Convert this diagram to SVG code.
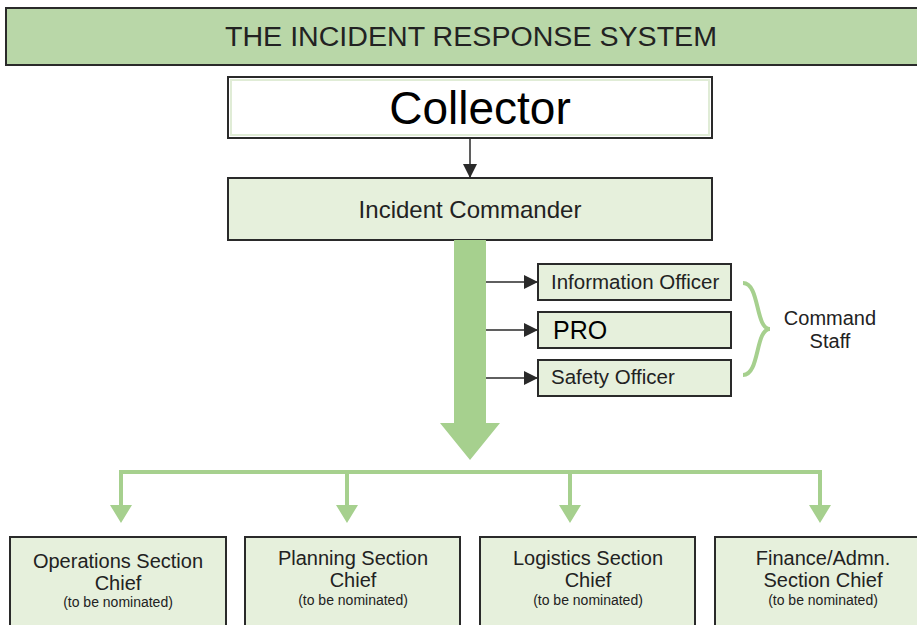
<svg xmlns="http://www.w3.org/2000/svg" width="917" height="625" viewBox="0 0 917 625">
<style>
text{font-family:"Liberation Sans",Arial,sans-serif;fill:#222;text-anchor:middle}
.box{fill:#e6f0dc;stroke:#2a2a2a;stroke-width:2}
.conn{stroke:#2a2a2a;stroke-width:1.5;fill:none}
.g{stroke:#a6d08e;stroke-width:4;fill:none}
.gf{fill:#a6d08e}
.sec{font-size:20px}
.small{font-size:14px}
.off{font-size:20.5px;text-anchor:start}
</style>
<defs>
<marker id="ahs" viewBox="0 0 10 10" refX="10" refY="5" markerWidth="14" markerHeight="14" markerUnits="userSpaceOnUse" orient="auto">
<path d="M0,0 L10,5 L0,10 z" fill="#2a2a2a"/>
</marker>
</defs>
<rect width="917" height="625" fill="#fff"/>
<g id="header">
<rect x="6" y="8" width="920" height="57" fill="#b9d7a8" stroke="#2a2a2a" stroke-width="2"/>
<text x="471" y="46" font-size="27" textLength="492" lengthAdjust="spacingAndGlyphs">THE INCIDENT RESPONSE SYSTEM</text>
</g>
<g id="collector">
<rect x="228" y="77" width="484" height="61" fill="#fff" stroke="#2a2a2a" stroke-width="2"/>
<rect x="231" y="80" width="478" height="55" fill="none" stroke="#e0ecd6" stroke-width="2"/>
<text x="480" y="124" font-size="46" style="fill:#000">Collector</text>
</g>
<g id="incident-commander">
<rect class="box" x="228" y="178" width="484" height="62"/>
<text x="470" y="218" font-size="24">Incident Commander</text>
</g>
<g id="connectors">
<line class="conn" x1="470" y1="138" x2="470" y2="178" marker-end="url(#ahs)"/>
<path class="gf" d="M454,240 L486,240 L486,423 L500,423 L470,460 L440,423 L454,423 z"/>
<line class="conn" x1="486" y1="282" x2="538" y2="282" marker-end="url(#ahs)"/>
<line class="conn" x1="486" y1="330" x2="538" y2="330" marker-end="url(#ahs)"/>
<line class="conn" x1="486" y1="378" x2="538" y2="378" marker-end="url(#ahs)"/>
<path class="g" d="M121,506 L121,472 L820,472 L820,506 M347,472 L347,506 M570,472 L570,506"/>
<path class="gf" d="M110,505 L132,505 L121,523 z M336,505 L358,505 L347,523 z M559,505 L581,505 L570,523 z M809,505 L831,505 L820,523 z"/>
<path d="M743,283 C760,283 755,329 770,329 C755,329 760,375 743,375" fill="none" stroke="#a6d08e" stroke-width="4"/>
</g>
<g id="information-officer">
<rect class="box" x="538" y="264" width="193" height="36"/>
<text class="off" x="551" y="289">Information Officer</text>
</g>
<g id="pro">
<rect class="box" x="538" y="312" width="193" height="36"/>
<text x="553" y="339" font-size="25" style="fill:#000;text-anchor:start">PRO</text>
</g>
<g id="safety-officer">
<rect class="box" x="538" y="360" width="193" height="36"/>
<text class="off" x="551" y="384">Safety Officer</text>
</g>
<g id="command-staff">
<text x="830" y="325" font-size="20">Command</text>
<text x="830" y="348" font-size="20">Staff</text>
</g>
<g id="operations">
<rect class="box" x="10" y="537" width="216" height="100"/>
<text class="sec" x="118" y="568">Operations Section</text>
<text class="sec" x="118" y="590">Chief</text>
<text class="small" x="118" y="607">(to be nominated)</text>
</g>
<g id="planning">
<rect class="box" x="245" y="537" width="215" height="100"/>
<text class="sec" x="353" y="565">Planning Section</text>
<text class="sec" x="353" y="587">Chief</text>
<text class="small" x="353" y="605">(to be nominated)</text>
</g>
<g id="logistics">
<rect class="box" x="480" y="537" width="215" height="100"/>
<text class="sec" x="588" y="565">Logistics Section</text>
<text class="sec" x="588" y="587">Chief</text>
<text class="small" x="588" y="605">(to be nominated)</text>
</g>
<g id="finance">
<rect class="box" x="715" y="537" width="215" height="100"/>
<text class="sec" x="823" y="565">Finance/Admn.</text>
<text class="sec" x="823" y="587">Section Chief</text>
<text class="small" x="823" y="605">(to be nominated)</text>
</g>
</svg>
